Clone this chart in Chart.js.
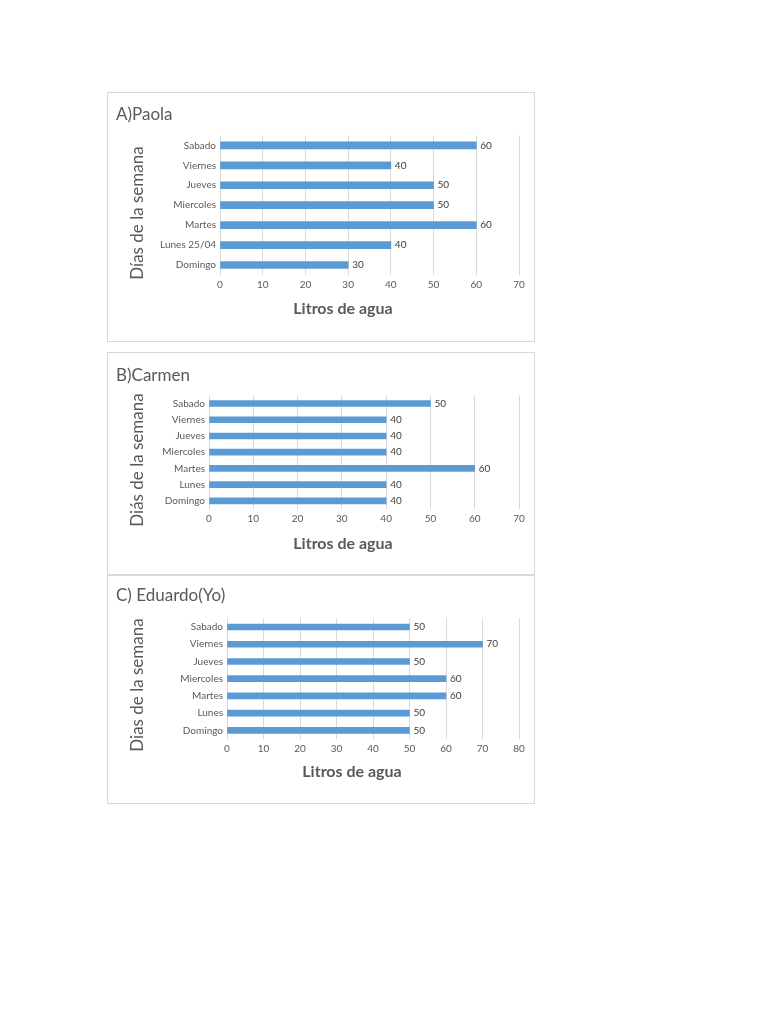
<!DOCTYPE html>
<html>
<head>
<meta charset="utf-8">
<script src="https://cdn.jsdelivr.net/npm/chart.js@4"></script>
<style>
  body { margin: 0; background: #fff; }
  .caja { position: absolute; border: 1px solid #d9d9d9; background: #fff; }
</style>
</head>
<body>
<div class="caja" style="left:107px;top:92px;width:426px;height:248px"><canvas id="chartA"></canvas></div>
<div class="caja" style="left:107px;top:352px;width:426px;height:221px"><canvas id="chartB"></canvas></div>
<div class="caja" style="left:107px;top:575px;width:426px;height:227px"><canvas id="chartC"></canvas></div>
<script>
const diasPaola = ['Sabado', 'Viernes', 'Jueves', 'Miercoles', 'Martes', 'Lunes 25/04', 'Domingo'];
const litrosPaola = [60, 40, 50, 50, 60, 40, 30];

const diasCarmen = ['Sabado', 'Viernes', 'Jueves', 'Miercoles', 'Martes', 'Lunes', 'Domingo'];
const litrosCarmen = [50, 40, 40, 40, 60, 40, 40];

const diasEduardo = ['Sabado', 'Viernes', 'Jueves', 'Miercoles', 'Martes', 'Lunes', 'Domingo'];
const litrosEduardo = [50, 70, 50, 60, 60, 50, 50];

const fuente = 'Lato, "Open Sans", sans-serif';
const gris = '#595959';

// etiquetas de valor al final de cada barra
const etiquetas = {
  id: 'etiquetas',
  afterDatasetsDraw(chart) {
    const ctx = chart.ctx;
    const meta = chart.getDatasetMeta(0);
    ctx.save();
    ctx.font = '10px ' + fuente;
    ctx.fillStyle = '#404040';
    ctx.textAlign = 'left';
    ctx.textBaseline = 'middle';
    meta.data.forEach((bar, i) => {
      ctx.fillText(chart.data.datasets[0].data[i], bar.x + 4, bar.y);
    });
    ctx.restore();
  }
};

// titulos de los ejes, centrados como en Excel (no sobre el area del grafico)
const titulosEjes = {
  id: 'titulosEjes',
  afterDraw(chart, args, opts) {
    const ctx = chart.ctx;
    ctx.save();
    ctx.fillStyle = gris;
    ctx.textAlign = 'center';
    ctx.textBaseline = 'middle';
    ctx.font = 'bold 16px ' + fuente;
    ctx.fillText(opts.textoX, opts.xCentro, opts.xAltura);
    ctx.translate(opts.yPos, opts.yCentro);
    ctx.rotate(-Math.PI / 2);
    ctx.font = '17px ' + fuente;
    ctx.fillText(opts.textoY, 0, 0);
    ctx.restore();
  }
};

const crearGrafico = (id, titulo, tituloY, dias, litros, max, cfg) => {
  const ctx = document.getElementById(id).getContext('2d');
  return new Chart(ctx, {
    type: 'bar',
    data: {
      labels: dias,
      datasets: [{
        data: litros,
        backgroundColor: '#5b9bd5',
        barThickness: cfg.grosor
      }]
    },
    plugins: [etiquetas, titulosEjes],
    options: {
      indexAxis: 'y',
      responsive: true,
      maintainAspectRatio: false,
      animation: false,
      layout: { padding: { left: 8, right: 15, top: 0, bottom: 0 } },
      plugins: {
        legend: { display: false },
        tooltip: { enabled: false },
        title: {
          display: true,
          text: titulo,
          align: 'start',
          color: gris,
          font: { family: fuente, size: 17, weight: 'normal' },
          padding: { top: cfg.tituloArriba, bottom: cfg.tituloAbajo }
        },
        titulosEjes: {
          textoX: 'Litros de agua',
          textoY: tituloY,
          xCentro: cfg.xCentro,
          xAltura: cfg.xAltura,
          yPos: 30,
          yCentro: cfg.yCentro
        }
      },
      scales: {
        x: {
          min: 0,
          max: max,
          ticks: {
            stepSize: 10,
            color: gris,
            padding: 4,
            font: { family: fuente, size: 10 }
          },
          grid: { color: '#d9d9d9', drawTicks: false },
          border: { display: false },
          afterFit: (scale) => { scale.height = cfg.altoX; }
        },
        y: {
          ticks: {
            color: gris,
            padding: 4,
            font: { family: fuente, size: 10 }
          },
          grid: { display: false, drawTicks: false },
          border: { display: false },
          afterFit: (scale) => { scale.width = cfg.anchoY; }
        }
      }
    }
  });
};

crearGrafico('chartA', 'A)Paola', 'Días de la semana', diasPaola, litrosPaola, 70,
  { grosor: 7, tituloArriba: 11, tituloAbajo: 11, altoX: 66, anchoY: 104, xCentro: 235, xAltura: 216, yCentro: 120 });
crearGrafico('chartB', 'B)Carmen', 'Diás de la semana', diasCarmen, litrosCarmen, 70,
  { grosor: 6, tituloArriba: 12, tituloAbajo: 10, altoX: 65, anchoY: 93, xCentro: 235, xAltura: 191, yCentro: 107 });
crearGrafico('chartC', 'C) Eduardo(Yo)', 'Dias de la semana', diasEduardo, litrosEduardo, 80,
  { grosor: 6, tituloArriba: 9, tituloAbajo: 13, altoX: 64, anchoY: 111, xCentro: 244, xAltura: 196, yCentro: 109 });
</script>
</body>
</html>
